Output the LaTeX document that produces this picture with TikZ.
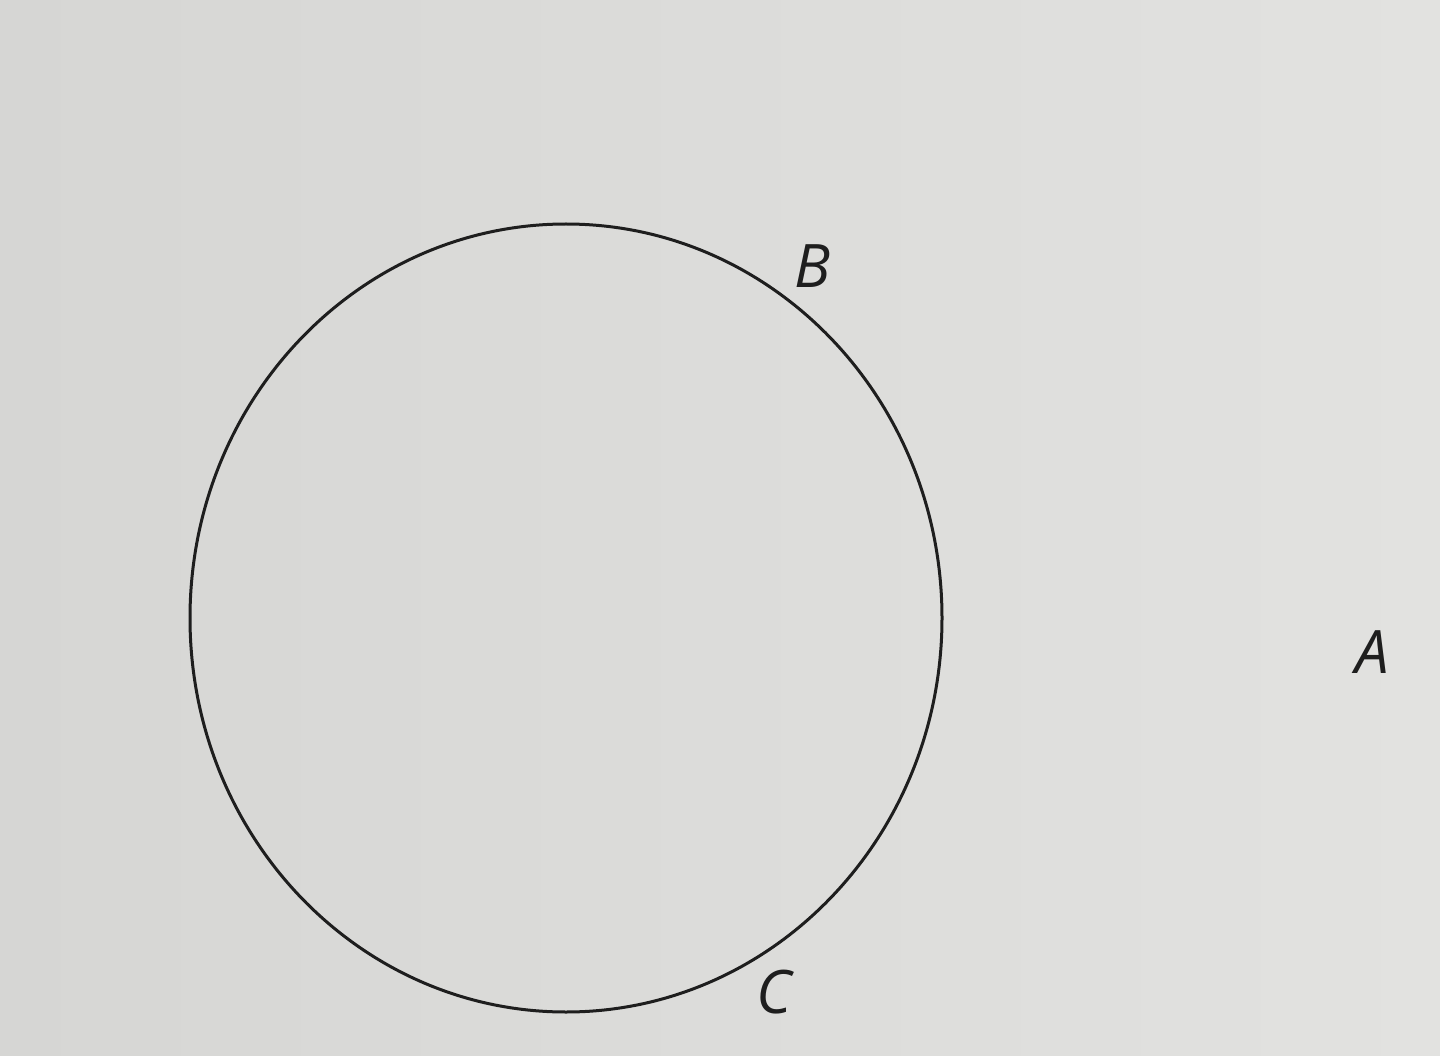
\documentclass[tikz,border=0pt]{standalone}
\usepackage{fontspec}
\setmainfont{Open Sans}
\definecolor{paper}{RGB}{214,214,212}
\definecolor{paperlight}{RGB}{226,226,224}
\definecolor{ink}{RGB}{30,30,30}
\tikzset{lab/.style={inner sep=0pt,text=ink,font=\fontsize{60}{60}\selectfont\itshape}}
\begin{document}
\begin{tikzpicture}[x=1pt,y=-1pt]
\useasboundingbox (0,0) rectangle (1440,1056);
\shade[left color=paper,right color=paperlight] (0,0) rectangle (1440,1056);
\draw[ink,line width=3pt] (566,618) ellipse [x radius=376,y radius=394];
\node[lab] (B) at (812,266) {B};
\node[lab] (A) at (1372,652) {A};
\node[lab] (C) at (774,992) {C};
\end{tikzpicture}
\end{document}
